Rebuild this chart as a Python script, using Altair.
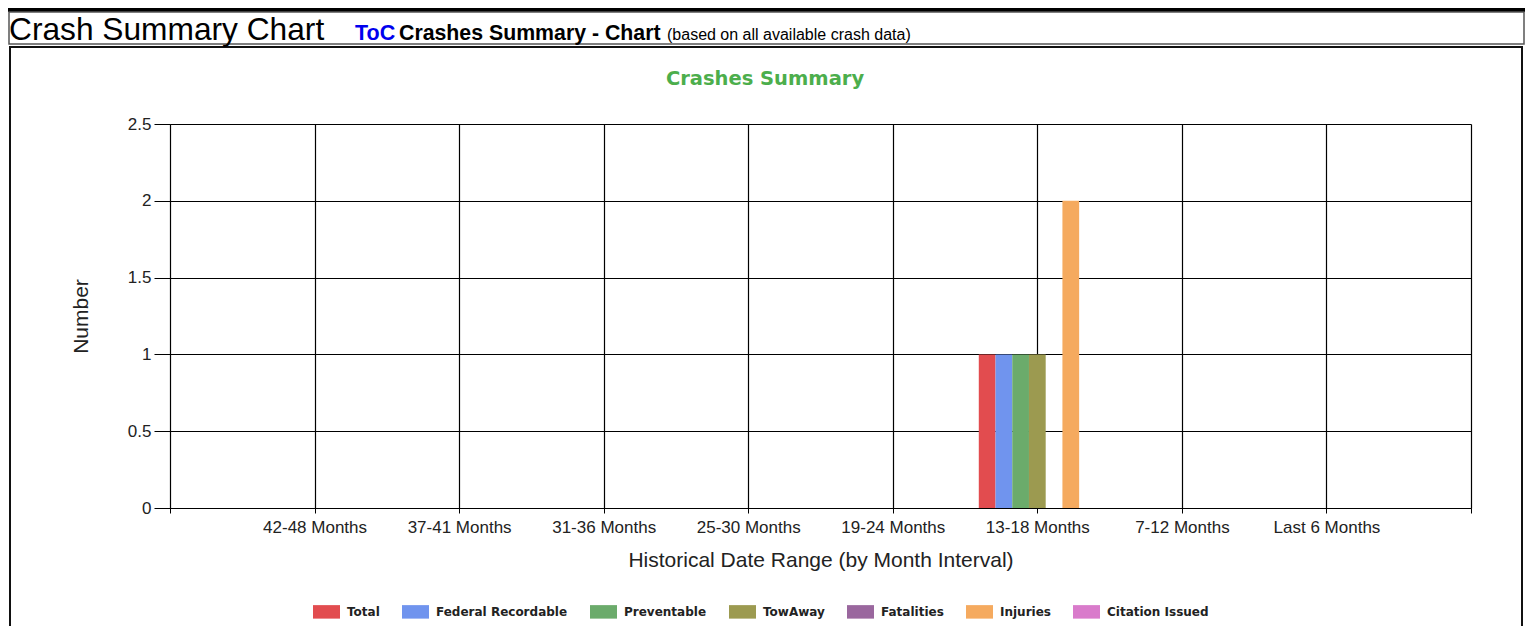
import json
import altair as alt
import pandas as pd

# ---------------- data ----------------
categories = ["42-48 Months", "37-41 Months", "31-36 Months", "25-30 Months",
              "19-24 Months", "13-18 Months", "7-12 Months", "Last 6 Months"]
series = ["Total", "Federal Recordable", "Preventable", "TowAway",
          "Fatalities", "Injuries", "Citation Issued"]
total = [0, 0, 0, 0, 0, 1, 0, 0]
federal_recordable = [0, 0, 0, 0, 0, 1, 0, 0]
preventable = [0, 0, 0, 0, 0, 1, 0, 0]
towaway = [0, 0, 0, 0, 0, 1, 0, 0]
fatalities = [0, 0, 0, 0, 0, 0, 0, 0]
injuries = [0, 0, 0, 0, 0, 2, 0, 0]
citation_issued = [0, 0, 0, 0, 0, 0, 0, 0]
colors = ["#e24c4f", "#7094ee", "#6bab6b", "#9c9a50", "#9a679e", "#f5aa5f", "#d97bcb"]
y_ticks = [0, 0.5, 1, 1.5, 2, 2.5]

all_values = [total, federal_recordable, preventable, towaway,
              fatalities, injuries, citation_issued]
rows = []
for s_i, (name, vals) in enumerate(zip(series, all_values)):
    for c_i, v in enumerate(vals):
        rows.append({"category": categories[c_i], "cat_pos": c_i + 1,
                     "series": name, "s_idx": s_i, "value": v})
df = pd.DataFrame(rows)

W, H = 1301, 384
bar_w = 0.81 / 7
label_expr = ("datum.value >= 1 && datum.value <= 8 ? "
              + json.dumps(categories) + "[datum.value - 1] : ''")

bars = alt.Chart(df).transform_filter(
    "datum.value > 0"
).transform_calculate(
    x0=f"datum.cat_pos + (datum.s_idx - 3.5) * {bar_w}",
    x1=f"datum.cat_pos + (datum.s_idx - 2.5) * {bar_w}",
).mark_bar().encode(
    x=alt.X("x0:Q",
            scale=alt.Scale(domain=[0, 9], nice=False, zero=False, padding=0),
            axis=alt.Axis(values=list(range(10)), labelExpr=label_expr,
                          grid=True, gridColor="black", gridOpacity=1, gridWidth=1.2,
                          domainColor="black", tickColor="black", tickSize=5,
                          labelFont="Liberation Sans", labelFontSize=17,
                          labelColor="#222222", labelPadding=6,
                          labelFlush=False, labelOverlap=False,
                          title="Historical Date Range (by Month Interval)",
                          titleFont="Liberation Sans", titleFontSize=21,
                          titleFontWeight="normal", titleColor="#222222",
                          titleY=58, titleBaseline="alphabetic")),
    x2="x1:Q",
    y=alt.Y("value:Q",
            scale=alt.Scale(domain=[0, 2.5], nice=False, padding=0),
            axis=alt.Axis(values=y_ticks, format="~g",
                          grid=True, gridColor="black", gridOpacity=1, gridWidth=1.2,
                          domainColor="black", tickColor="black", tickSize=16,
                          labelFont="Liberation Sans", labelFontSize=17,
                          labelColor="#222222", labelPadding=3,
                          title="Number", titleFont="Liberation Sans",
                          titleFontSize=21, titleFontWeight="normal",
                          titleColor="#222222", titleAngle=270,
                          titleX=-83, titleY=192, titleAlign="center",
                          titleBaseline="alphabetic")),
    y2=alt.datum(0),
    color=alt.Color("series:N",
                    scale=alt.Scale(domain=series, range=colors),
                    sort=series,
                    legend=alt.Legend(title=None, orient="none",
                                      legendX=143, legendY=474,
                                      direction="horizontal", columns=7,
                                      symbolType="M-1,-0.5L1,-0.5L1,0.5L-1,0.5Z",
                                      symbolSize=729, symbolStrokeWidth=0,
                                      symbolOpacity=1,
                                      labelFont="DejaVu Sans",
                                      labelFontWeight="bold", labelFontSize=12,
                                      labelColor="#222222", labelOffset=7,
                                      columnPadding=22, padding=0)),
)

# ---------------- page decorations ----------------
one = pd.DataFrame({"d": [0]})

top_bar = alt.Chart(one).mark_rect(color="black").encode(
    x=alt.value(-162), x2=alt.value(1355), y=alt.value(-116), y2=alt.value(-112))

header_box = alt.Chart(one).mark_rect(fillOpacity=0, stroke="#555555", strokeWidth=1.5).encode(
    x=alt.value(-161), x2=alt.value(1354), y=alt.value(-112), y2=alt.value(-80))

chart_box = alt.Chart(one).mark_rect(fillOpacity=0, stroke="#111111", strokeWidth=2).encode(
    x=alt.value(-160), x2=alt.value(1352), y=alt.value(-77), y2=alt.value(560))


def txt(text, x, y, size, color="black", weight="normal", font="Liberation Sans", align="left"):
    return alt.Chart(one).mark_text(
        text=text, align=align, baseline="alphabetic", font=font,
        fontSize=size, fontWeight=weight, color=color
    ).encode(x=alt.value(x), y=alt.value(y))


h1 = txt("Crash Summary Chart", -161, -84, 31.7)
h2 = txt("ToC", 185, -84, 21.5, color="#0000ee", weight="bold")
h3 = txt("Crashes Summary - Chart", 229, -84, 21.3, weight="bold")
h4 = txt("(based on all available crash data)", 497, -84, 16)
title = txt("Crashes Summary", 595, -39, 19.5, color="#4cae4c", weight="bold",
            font="DejaVu Sans", align="center")

chart = alt.layer(
    top_bar, header_box, chart_box, h1, h2, h3, h4, title, bars
).properties(
    width=W, height=H,
    padding={"left": 162, "top": 116, "right": 54, "bottom": 118},
    autosize=alt.AutoSizeParams(type="none"),
    background="white",
).configure_view(stroke="transparent")

chart.save("out.html", embed_options={"renderer": "svg", "actions": False})
